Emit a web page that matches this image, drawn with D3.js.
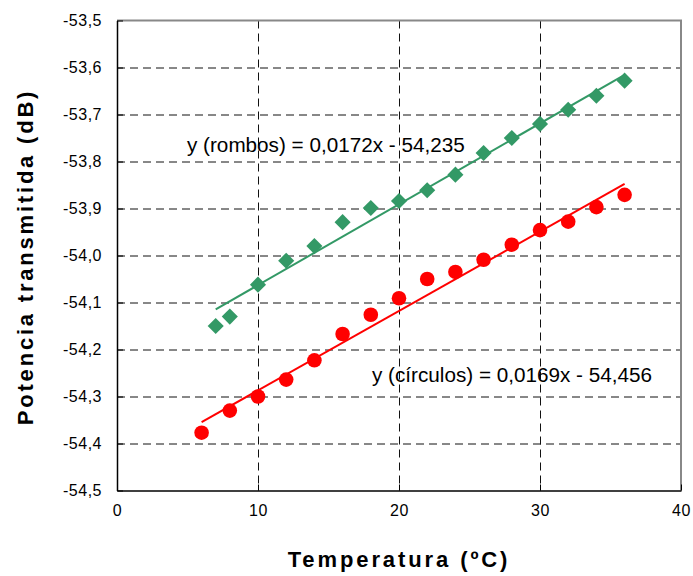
<!DOCTYPE html>
<html>
<head>
<meta charset="utf-8">
<script src="https://cdn.jsdelivr.net/npm/d3@7"></script>
<style>
  body { margin: 0; background: #fff; }
  text { font-family: "Liberation Sans", Arial, sans-serif; }
</style>
</head>
<body>
<script>
  // datos
  const tempRombos = [7, 8, 10, 12, 14, 16, 18, 20, 22, 24, 26, 28, 30, 32, 34, 36];
  const potRombos = [-54.150, -54.130, -54.062, -54.011, -53.980, -53.929, -53.899, -53.884,
                     -53.861, -53.828, -53.782, -53.750, -53.720, -53.690, -53.660, -53.628];
  const tempCirculos = [6, 8, 10, 12, 14, 16, 18, 20, 22, 24, 26, 28, 30, 32, 34, 36];
  const potCirculos = [-54.377, -54.330, -54.300, -54.264, -54.223, -54.167, -54.126, -54.091,
                       -54.050, -54.035, -54.009, -53.977, -53.946, -53.928, -53.897, -53.871];
  const ajusteRombos = { m: 0.0172, b: -54.235, texto: 'y (rombos) = 0,0172x - 54,235' };
  const ajusteCirculos = { m: 0.0169, b: -54.456, texto: 'y (círculos) = 0,0169x - 54,456' };
  const xTicks = [0, 10, 20, 30, 40];
  const yTicks = [-53.5, -53.6, -53.7, -53.8, -53.9, -54.0, -54.1, -54.2, -54.3, -54.4, -54.5];

  const width = 693;
  const height = 576;
  const margin = { top: 20.5, right: 12, bottom: 85.5, left: 117 };
  const iw = width - margin.left - margin.right;
  const ih = height - margin.top - margin.bottom;

  const svg = d3.select('body')
          .append('svg')
          .attr('width', width)
          .attr('height', height);

  const g = svg.append('g')
          .attr('transform', `translate(${margin.left},${margin.top})`);

  const x = d3.scaleLinear().domain([0, 40]).range([0, iw]);
  const y = d3.scaleLinear().domain([-54.5, -53.5]).range([ih, 0]);
  // coma decimal y guion normal como signo menos
  const coma = v => d3.format('.1f')(v).replace('.', ',').replace('\u2212', '-');

  // rejilla discontinua
  g.append('g')
          .selectAll('line')
          .data(yTicks.slice(1, -1))
          .enter()
          .append('line')
          .attr('x1', 0).attr('x2', iw)
          .attr('y1', d => Math.round(y(d)) + 0.5).attr('y2', d => Math.round(y(d)) + 0.5)
          .attr('stroke', '#111')
          .attr('stroke-dasharray', '8,5');

  g.append('g')
          .selectAll('line')
          .data(xTicks.slice(1, -1))
          .enter()
          .append('line')
          .attr('y1', 0).attr('y2', ih)
          .attr('x1', d => Math.round(x(d)) + 0.5).attr('x2', d => Math.round(x(d)) + 0.5)
          .attr('stroke', '#111')
          .attr('stroke-dasharray', '8,5');

  // borde gris arriba y a la derecha
  g.append('path')
          .attr('d', `M0,0H${iw}V${ih}`)
          .attr('fill', 'none')
          .attr('stroke', '#888')
          .attr('stroke-width', 2);

  // ejes con marcas hacia dentro
  const ejeX = g.append('g')
          .attr('transform', `translate(0,${ih})`)
          .call(d3.axisBottom(x).tickValues(xTicks).tickSizeInner(-6).tickSizeOuter(0).tickPadding(14));
  const ejeY = g.append('g')
          .call(d3.axisLeft(y).tickValues(yTicks).tickFormat(coma).tickSizeInner(-6).tickSizeOuter(0).tickPadding(15));

  [ejeX, ejeY].forEach(a => {
    a.select('.domain').attr('stroke', '#000').attr('stroke-width', 1.5);
    a.selectAll('.tick line').attr('stroke', '#000');
    a.selectAll('text')
            .attr('font-size', 16)
            .attr('letter-spacing', 0.5)
            .attr('fill', '#000');
  });

  // rectas de ajuste
  const recta = (aj, xs) => [xs[0], xs[xs.length - 1]].map(t => [x(t), y(aj.m * t + aj.b)]);

  g.append('path')
          .attr('d', d3.line()(recta(ajusteRombos, tempRombos)))
          .attr('stroke', '#339966')
          .attr('stroke-width', 2)
          .attr('fill', 'none');

  g.append('path')
          .attr('d', d3.line()(recta(ajusteCirculos, tempCirculos)))
          .attr('stroke', '#ff0000')
          .attr('stroke-width', 2)
          .attr('fill', 'none');

  // rombos
  g.append('g')
          .selectAll('path')
          .data(tempRombos.map((t, i) => [t, potRombos[i]]))
          .enter()
          .append('path')
          .attr('d', d3.symbol(d3.symbolDiamond2, 165)())
          .attr('transform', d => `translate(${x(d[0])},${y(d[1])})`)
          .attr('fill', '#339966');

  // círculos
  g.append('g')
          .selectAll('circle')
          .data(tempCirculos.map((t, i) => [t, potCirculos[i]]))
          .enter()
          .append('circle')
          .attr('cx', d => x(d[0]))
          .attr('cy', d => y(d[1]))
          .attr('r', 7.3)
          .attr('fill', '#ff0000');

  // ecuaciones
  svg.append('text')
          .attr('x', 187).attr('y', 152)
          .attr('font-size', 20.7)
          .text(ajusteRombos.texto);

  svg.append('text')
          .attr('x', 372).attr('y', 382)
          .attr('font-size', 20.7)
          .text(ajusteCirculos.texto);

  // títulos de ejes
  svg.append('text')
          .attr('x', 399).attr('y', 567)
          .attr('text-anchor', 'middle')
          .attr('font-size', 22)
          .attr('font-weight', 'bold')
          .attr('letter-spacing', 2.9)
          .text('Temperatura (ºC)');

  svg.append('text')
          .attr('transform', 'translate(33,257) rotate(-90)')
          .attr('text-anchor', 'middle')
          .attr('font-size', 22)
          .attr('font-weight', 'bold')
          .attr('letter-spacing', 2.8)
          .text('Potencia transmitida (dB)');
</script>
</body>
</html>
